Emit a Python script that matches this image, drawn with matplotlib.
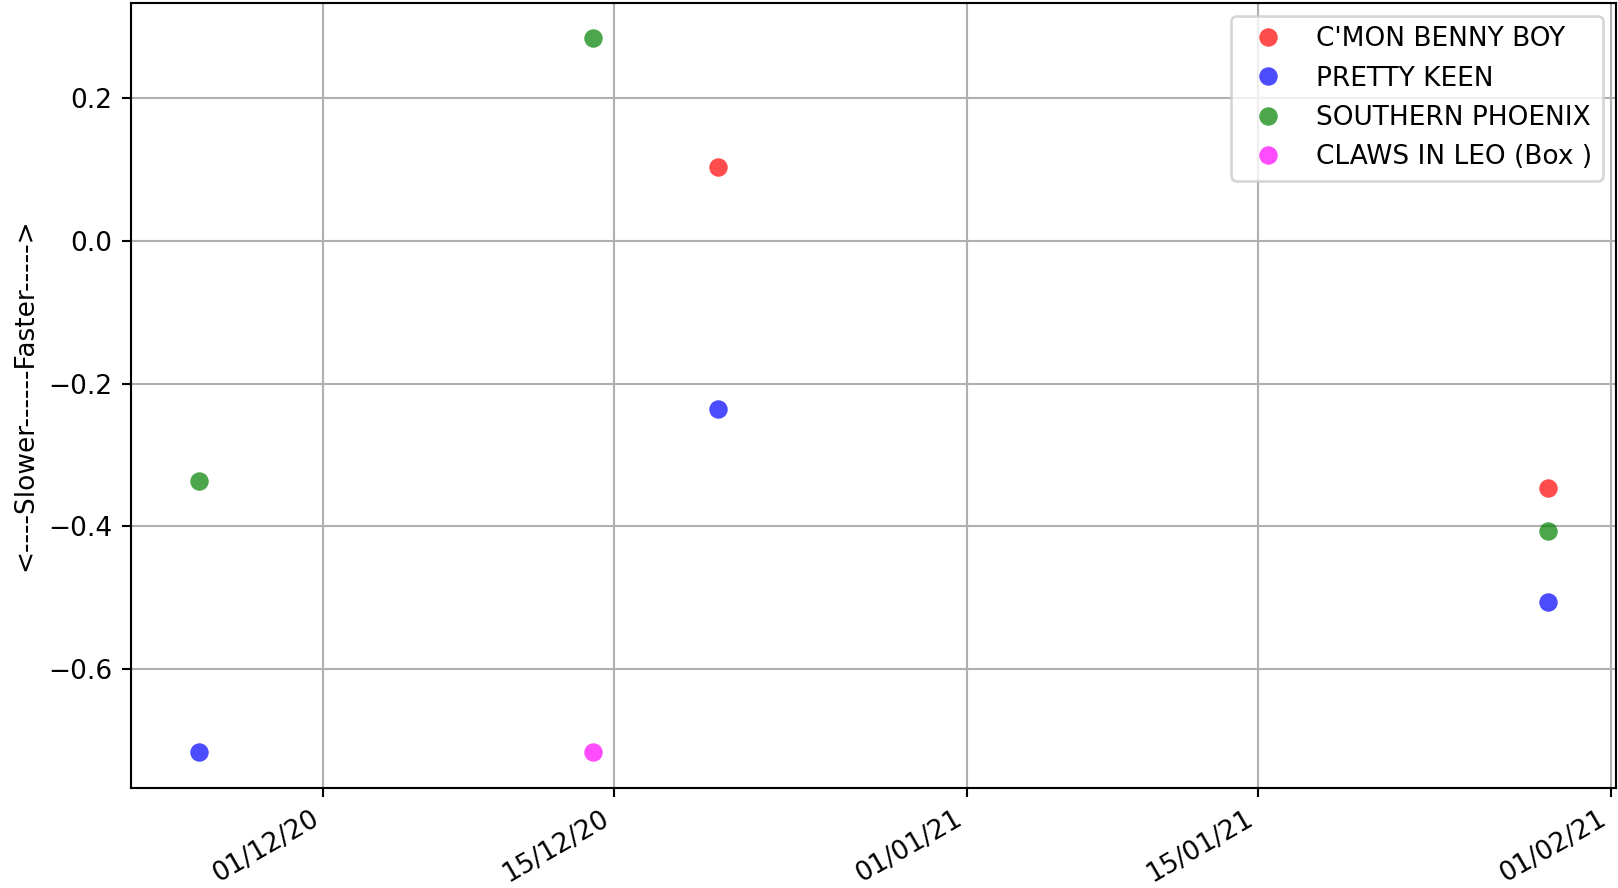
import datetime as dt
import matplotlib
matplotlib.use('Agg')
import matplotlib.pyplot as plt
import matplotlib.dates as mdates

# ---- data -----------------------------------------------------------------
horses = ["C'MON BENNY BOY", "PRETTY KEEN", "SOUTHERN PHOENIX", "CLAWS IN LEO (Box )"]
colors = ['red', 'blue', 'green', 'magenta']

benny_dates = ['2020-12-20', '2021-01-29']
benny_vals = [0.104, -0.346]

keen_dates = ['2020-11-25', '2020-12-20', '2021-01-29']
keen_vals = [-0.716, -0.236, -0.506]

phoenix_dates = ['2020-11-25', '2020-12-14', '2021-01-29']
phoenix_vals = [-0.336, 0.284, -0.406]

claws_dates = ['2020-12-14']
claws_vals = [-0.716]

series = [(benny_dates, benny_vals), (keen_dates, keen_vals),
          (phoenix_dates, phoenix_vals), (claws_dates, claws_vals)]

DPI = 190
fig, ax = plt.subplots(figsize=(1619/DPI, 888/DPI), dpi=DPI)
for name, col, (ds, vs) in zip(horses, colors, series):
    xs = [dt.datetime.strptime(d, '%Y-%m-%d') for d in ds]
    ax.plot(xs, vs, 'o', ls='none', ms=7, mew=0, color=col, alpha=0.7,
            label=name, zorder=3)

ax.xaxis.set_major_locator(mdates.DayLocator(bymonthday=[1, 15]))
ax.xaxis.set_major_formatter(mdates.DateFormatter('%d/%m/%y'))
plt.setp(ax.get_xticklabels(), rotation=30, ha='right')
ax.set_ylabel('<----Slower------Faster----->')
ax.grid(True)
ax.legend(loc='upper right')

fig.subplots_adjust(left=0.081, right=0.998, top=0.997, bottom=0.113)
fig.savefig('out.png', dpi=DPI)
